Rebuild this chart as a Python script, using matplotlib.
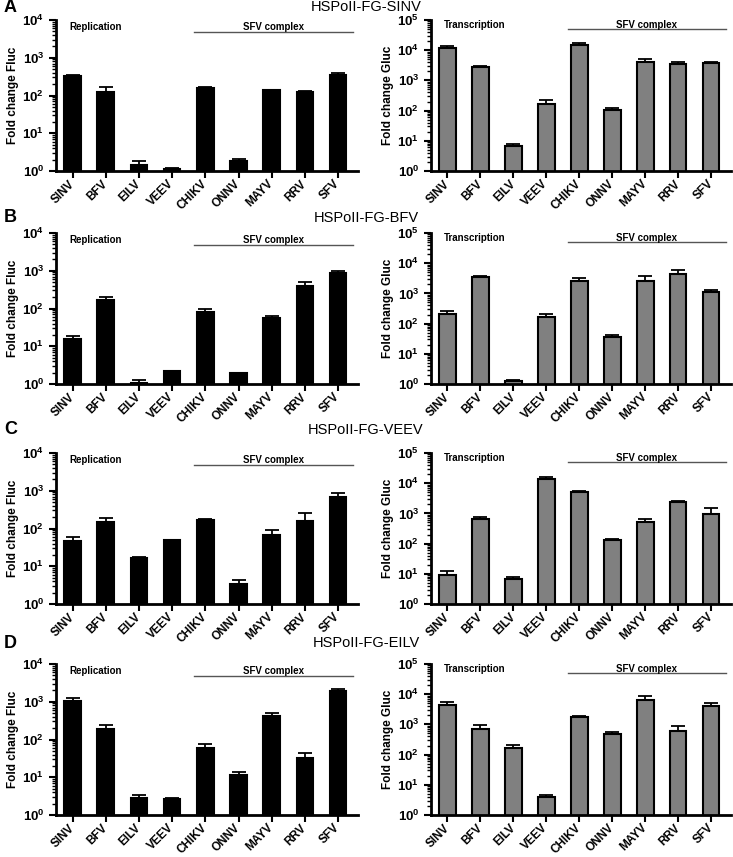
import numpy as np
import matplotlib
matplotlib.use("Agg")
from matplotlib import pyplot as plt
from matplotlib.ticker import FixedLocator, FixedFormatter, LogLocator, NullFormatter

plt.rcParams['font.family'] = ['Liberation Sans', 'DejaVu Sans']
plt.rcParams['mathtext.fontset'] = 'custom'
plt.rcParams['mathtext.bf'] = 'Liberation Sans:bold'
plt.rcParams['mathtext.rm'] = 'Liberation Sans'

viruses = ['SINV', 'BFV', 'EILV', 'VEEV', 'CHIKV', 'ONNV', 'MAYV', 'RRV', 'SFV']
panel_letters = ['A', 'B', 'C', 'D']
titles = ['HSPoII-FG-SINV', 'HSPoII-FG-BFV', 'HSPoII-FG-VEEV', 'HSPoII-FG-EILV']

# Fluc (replication), mean and SD
fluc_A = [330, 121, 1.41, 1.1, 158, 1.88, 137, 121, 355]
fluc_A_sd = [15, 50, 0.47, 0.12, 7, 0.24, 3, 8, 33]
fluc_B = [15.5, 167, 1.06, 2.22, 83, 1.97, 57.6, 400, 873]
fluc_B_sd = [3.2, 29, 0.22, 0.05, 15, 0.03, 5.4, 93, 127]
fluc_C = [47, 145, 16.8, 49, 167, 3.3, 68, 160, 690]
fluc_C_sd = [14, 45, 0.4, 1, 11, 0.9, 23, 96, 170]
fluc_D = [1050, 192, 2.84, 2.73, 61, 11.4, 410, 32.5, 1870]
fluc_D_sd = [240, 53, 0.46, 0.17, 15, 2.3, 105, 11.5, 370]

# Gluc (transcription), mean and SD
gluc_A = [12100, 2700, 6.9, 162, 15200, 102, 4170, 3400, 3700]
gluc_A_sd = [1700, 300, 1.1, 57, 1700, 23, 800, 770, 470]
gluc_B = [208, 3570, 1.22, 162, 2570, 35, 2500, 4380, 1140]
gluc_B_sd = [47, 300, 0.17, 51, 670, 7, 1160, 1560, 160]
gluc_C = [9.4, 635, 6.7, 13800, 5000, 128, 520, 2390, 955]
gluc_C_sd = [3.3, 145, 1.3, 1800, 650, 17, 130, 110, 595]
gluc_D = [4540, 715, 167, 3.8, 1700, 490, 6300, 600, 4170]
gluc_D_sd = [860, 245, 43, 0.9, 260, 60, 2400, 290, 830]

fluc = [fluc_A, fluc_B, fluc_C, fluc_D]
fluc_sd = [fluc_A_sd, fluc_B_sd, fluc_C_sd, fluc_D_sd]
gluc = [gluc_A, gluc_B, gluc_C, gluc_D]
gluc_sd = [gluc_A_sd, gluc_B_sd, gluc_C_sd, gluc_D_sd]

W, H = 733, 857
fig = plt.figure(figsize=(W/100, H/100), dpi=100)

row_top = [20, 233, 453, 664]
row_h = 151
left_x = (56, 358)
right_x = (431, 731)
title_y = [7, 218, 430, 643]


def draw_panel(ax, vals, sd, color, top_exp, ylabel, tag):
    x = np.arange(len(viruses))
    vals = np.array(vals, dtype=float)
    sd = np.array(sd, dtype=float)
    ax.bar(x, vals, width=0.5, color=color, edgecolor='black', linewidth=1.5, zorder=2)
    ax.errorbar(x, vals, yerr=[np.zeros_like(sd), sd], fmt='none', ecolor='black',
                elinewidth=1.3, capsize=5, capthick=1.3, zorder=1)
    ax.set_yscale('log')
    ax.set_ylim(1, 10**top_exp)
    ax.set_xlim(-0.5, 8.6)
    majors = [10**k for k in range(top_exp + 1)]
    ax.yaxis.set_major_locator(FixedLocator(majors))
    ax.yaxis.set_major_formatter(FixedFormatter([r'$\mathbf{10^{%d}}$' % k for k in range(top_exp + 1)]))
    ax.yaxis.set_minor_locator(LogLocator(base=10, subs=np.arange(2, 10), numticks=20))
    ax.yaxis.set_minor_formatter(NullFormatter())
    ax.set_xticks(x)
    ax.set_xticklabels(viruses, rotation=45, ha='right', va='center', rotation_mode='anchor',
                       fontsize=8.5, fontweight='bold')
    for lab in ax.get_yticklabels():
        lab.set_fontsize(9.5)
    ax.tick_params(axis='x', which='major', pad=3)
    ax.tick_params(axis='both', which='major', direction='out', length=5, width=1.5)
    ax.tick_params(axis='y', which='minor', direction='out', length=3, width=1)
    ax.spines['top'].set_visible(False)
    ax.spines['right'].set_visible(False)
    ax.spines['left'].set_linewidth(2)
    ax.spines['bottom'].set_linewidth(2)
    ax.set_ylabel(ylabel, fontsize=8.5, fontweight='bold', labelpad=2)
    # annotations
    top_y = 10**(top_exp - 0.18)
    line_y = 10**(top_exp - 0.31)
    ax.text(-0.1, top_y, tag, fontsize=7, fontweight='bold', ha='left', va='center')
    ax.plot([3.66, 8.45], [line_y, line_y], color='#555555', linewidth=1, clip_on=False)
    ax.text(6.05, top_y, 'SFV complex', fontsize=7, fontweight='bold', ha='center', va='center')


for i in range(4):
    b = 1 - (row_top[i] + row_h) / H
    h = row_h / H
    axl = fig.add_axes([left_x[0] / W, b, (left_x[1] - left_x[0]) / W, h])
    draw_panel(axl, fluc[i], fluc_sd[i], 'black', 4, 'Fold change Fluc', 'Replication')
    axr = fig.add_axes([right_x[0] / W, b, (right_x[1] - right_x[0]) / W, h])
    draw_panel(axr, gluc[i], gluc_sd[i], '#808080', 5, 'Fold change Gluc', 'Transcription')
    fig.text(366 / W, 1 - title_y[i] / H, titles[i], fontsize=10.5, ha='center', va='center')
    fig.text(4 / W, 1 - title_y[i] / H, panel_letters[i], fontsize=13, fontweight='bold',
             ha='left', va='center')

fig.savefig('out.png', dpi=100)
